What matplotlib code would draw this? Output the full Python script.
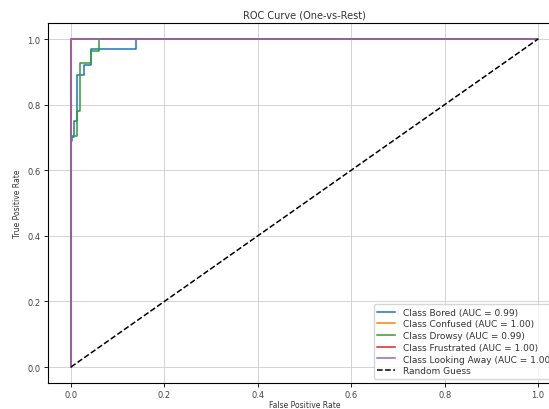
import matplotlib
matplotlib.use('Agg')
import matplotlib.pyplot as plt

# ROC points
classes = ['Bored', 'Confused', 'Drowsy', 'Frustrated', 'Looking Away']
aucs = [0.99, 1.00, 0.99, 1.00, 1.00]

fpr_bored = [0, 0, 0.003, 0.003, 0.006, 0.006, 0.012, 0.012, 0.028, 0.028, 0.042, 0.042, 0.14, 0.14, 1.0]
tpr_bored = [0, 0.69, 0.69, 0.70, 0.70, 0.75, 0.75, 0.89, 0.89, 0.92, 0.92, 0.97, 0.97, 1.0, 1.0]

fpr_confused = [0, 0, 1.0]
tpr_confused = [0, 1.0, 1.0]

fpr_drowsy = [0, 0, 0.012, 0.012, 0.019, 0.019, 0.043, 0.043, 0.059, 0.059, 1.0]
tpr_drowsy = [0, 0.705, 0.705, 0.78, 0.78, 0.928, 0.928, 0.964, 0.964, 1.0, 1.0]

fpr_frustrated = [0, 0, 1.0]
tpr_frustrated = [0, 1.0, 1.0]

fpr_looking = [0, 0, 1.0]
tpr_looking = [0, 1.0, 1.0]

fprs = [fpr_bored, fpr_confused, fpr_drowsy, fpr_frustrated, fpr_looking]
tprs = [tpr_bored, tpr_confused, tpr_drowsy, tpr_frustrated, tpr_looking]

plt.rcParams['text.color'] = '#333333'
plt.rcParams['xtick.labelcolor'] = '#444444'
plt.rcParams['ytick.labelcolor'] = '#444444'
plt.rcParams['axes.labelcolor'] = '#333333'

fig = plt.figure(figsize=(5.49, 4.10), dpi=100)
ax = fig.add_axes([0.0867, 0.0624, 0.936, 0.88])

for name, auc, f, t in zip(classes, aucs, fprs, tprs):
    ax.plot(f, t, lw=1.1, label=f'Class {name} (AUC = {auc:.2f})')

ax.plot([0, 1], [0, 1], 'k--', lw=1.1, label='Random Guess')

ax.set_title('ROC Curve (One-vs-Rest)', fontsize=7, pad=4)
ax.set_xlabel('False Positive Rate', fontsize=5.5, labelpad=0.5)
ax.set_ylabel('True Positive Rate', fontsize=5.5, labelpad=4)
ax.tick_params(labelsize=6, length=3, width=0.6, pad=2)
for s in ax.spines.values():
    s.set_linewidth(0.8)
ax.grid(True, lw=0.6, color='#cccccc')
ax.legend(loc='lower right', fontsize=6.5, framealpha=0.8, labelspacing=0.3)

plt.savefig('out.png', dpi=100)
